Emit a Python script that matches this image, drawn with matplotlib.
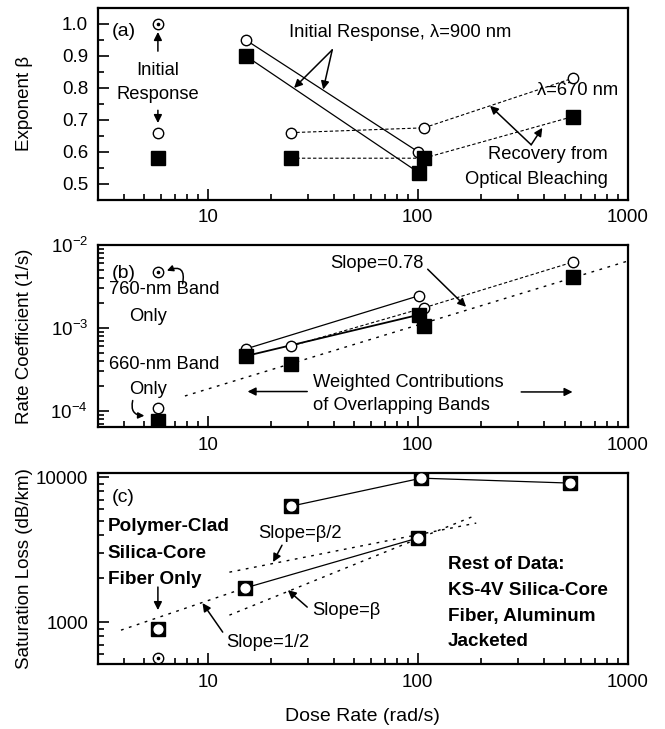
import matplotlib
matplotlib.use("Agg")
import matplotlib.pyplot as plt
from matplotlib.ticker import FixedLocator, LogLocator, NullFormatter, MultipleLocator

plt.rcParams['font.family'] = ['Liberation Sans', 'DejaVu Sans']
plt.rcParams['font.size'] = 13
plt.rcParams['mathtext.fontset'] = 'custom'
plt.rcParams['mathtext.rm'] = 'Liberation Sans'
plt.rcParams['mathtext.it'] = 'Liberation Sans:italic'

# ---- (a) exponent beta vs dose rate ----
a_init_dose = [5.8]
a_init_beta = [1.0]
a_single_circ_dose = [5.8]
a_single_circ_beta = [0.66]
a_single_sq_dose = [5.8]
a_single_sq_beta = [0.58]
a_circ_900_dose = [15.2, 100.5]
a_circ_900_beta = [0.95, 0.60]
a_sq_900_dose = [15.2, 101]
a_sq_900_beta = [0.90, 0.535]
a_circ_670_dose = [24.9, 107, 546]
a_circ_670_beta = [0.66, 0.675, 0.83]
a_sq_670_dose = [24.9, 107, 546]
a_sq_670_beta = [0.58, 0.58, 0.71]

# ---- (b) rate coefficient vs dose rate ----
b_760_dose = [5.8]
b_760_k = [4.7e-3]
b_660_circ_dose = [5.8]
b_660_circ_k = [1.09e-4]
b_660_sq_dose = [5.8]
b_660_sq_k = [7.6e-5]
b_circ_solid_dose = [15.2, 101]
b_circ_solid_k = [5.6e-4, 2.44e-3]
b_sq_solid_dose = [15.2, 101]
b_sq_solid_k = [4.6e-4, 1.44e-3]
b_circ_dash_dose = [24.9, 107, 546]
b_circ_dash_k = [6.05e-4, 1.75e-3, 6.2e-3]
b_sq_dose = [24.9, 107, 546]
b_sq_k = [3.66e-4, 1.06e-3, 4.1e-3]
b_fit_dose = [7.8, 1000]
b_fit_k = [1.52e-4, 6.4e-3]

# ---- (c) saturation loss vs dose rate ----
c_polymer_dose = [5.8]
c_polymer_loss = [900]
c_polymer_dot_dose = [5.8]
c_polymer_dot_loss = [565]
c_ks4v_hi_dose = [24.9, 104, 530]
c_ks4v_hi_loss = [6300, 9840, 9100]
c_ks4v_lo_dose = [15.0, 100]
c_ks4v_lo_loss = [1715, 3800]
c_half_dose = [3.87, 15.0]
c_half_loss = [880, 1715]
c_beta2_dose = [12.7, 190]
c_beta2_loss = [2210, 4820]
c_beta_dose = [12.7, 190]
c_beta_loss = [1117, 5470]

x_ticks = [10, 100, 1000]
x_tick_labels = ['10', '100', '1000']

NOTE = 13.2
BOLD = 13.6
OPEN = dict(marker='o', ms=7.5, mfc='white', mec='black', mew=1.0, ls='none', zorder=4)
SQUARE = dict(marker='s', ms=9.5, mfc='black', mec='black', ls='none', zorder=5)
ARROW = dict(arrowstyle='-|>', color='black', lw=1.1, mutation_scale=12, shrinkA=0, shrinkB=0)


def circled_dot(ax, x, y):
    ax.plot(x, y, **OPEN)
    ax.plot(x, y, marker='o', ms=1.6, color='black', ls='none', zorder=5)


def arrow(ax, tail, head, **kw):
    props = dict(ARROW)
    props.update(kw)
    ax.annotate('', xy=head, xytext=tail, arrowprops=props)


def style_axis(ax):
    ax.set_xscale('log')
    ax.set_xlim(3, 1000)
    ax.xaxis.set_major_locator(FixedLocator(x_ticks))
    ax.set_xticklabels(x_tick_labels)
    ax.xaxis.set_minor_locator(LogLocator(base=10, subs=range(2, 10)))
    ax.xaxis.set_minor_formatter(NullFormatter())
    ax.tick_params(which='both', direction='in', width=1.2, labelsize=13.5, pad=7)
    ax.tick_params(which='major', length=8)
    ax.tick_params(which='minor', length=4.5)
    for s in ax.spines.values():
        s.set_linewidth(1.6)


fig = plt.figure(figsize=(6.65, 7.29), dpi=100)
ax_a = fig.add_axes([0.147, 0.726, 0.797, 0.263])
ax_b = fig.add_axes([0.147, 0.414, 0.797, 0.250])
ax_c = fig.add_axes([0.147, 0.089, 0.797, 0.262])

# panel (a)
ax = ax_a
style_axis(ax)
ax.set_ylim(0.45, 1.05)
ax.yaxis.set_minor_locator(MultipleLocator(0.05))
ax.set_yticks([0.5, 0.6, 0.7, 0.8, 0.9, 1.0])
ax.set_yticklabels(['0.5', '0.6', '0.7', '0.8', '0.9', '1.0'])
ax.plot(a_circ_900_dose, a_circ_900_beta, color='black', lw=0.9)
ax.plot(a_sq_900_dose, a_sq_900_beta, color='black', lw=0.9)
ax.plot(a_circ_670_dose, a_circ_670_beta, color='black', lw=0.8, ls=(0, (3, 2)))
ax.plot(a_sq_670_dose, a_sq_670_beta, color='black', lw=0.8, ls=(0, (3, 2)))
ax.plot(a_circ_900_dose, a_circ_900_beta, **OPEN)
ax.plot(a_circ_670_dose, a_circ_670_beta, **OPEN)
ax.plot(a_single_circ_dose, a_single_circ_beta, **OPEN)
ax.plot(a_sq_900_dose, a_sq_900_beta, **SQUARE)
ax.plot(a_sq_670_dose, a_sq_670_beta, **SQUARE)
ax.plot(a_single_sq_dose, a_single_sq_beta, **SQUARE)
circled_dot(ax, a_init_dose, a_init_beta)
ax.set_ylabel('Exponent β', fontsize=13.5)
ax.yaxis.set_label_coords(-0.122, 0.5)
ax.text(0.026, 0.875, '(a)', transform=ax.transAxes, fontsize=14, va='center')
ax.text(5.8, 0.817, 'Initial\nResponse', ha='center', va='center', linespacing=1.6, fontsize=NOTE)
arrow(ax, (5.8, 0.915), (5.8, 0.975))
arrow(ax, (5.8, 0.73), (5.8, 0.69))
ax.text(24.4, 0.972, 'Initial Response, λ=900 nm', ha='left', va='center', fontsize=NOTE)
arrow(ax, (39.2, 0.919), (25.8, 0.80))
arrow(ax, (39.2, 0.919), (35.5, 0.795))
ax.text(371, 0.792, 'λ=670 nm', ha='left', va='center', fontsize=NOTE)
ax.text(803, 0.552, 'Recovery from\nOptical Bleaching', ha='right', va='center',
        multialignment='right', linespacing=1.6, fontsize=NOTE)
arrow(ax, (347, 0.622), (221, 0.744))
arrow(ax, (347, 0.622), (392, 0.675))

# panel (b)
ax = ax_b
style_axis(ax)
ax.set_yscale('log')
ax.set_ylim(6.4e-5, 1e-2)
ax.yaxis.set_major_locator(FixedLocator([1e-4, 1e-3, 1e-2]))
ax.set_yticklabels([r'$\mathregular{10^{-4}}$', r'$\mathregular{10^{-3}}$', r'$\mathregular{10^{-2}}$'])
ax.yaxis.set_minor_locator(LogLocator(base=10, subs=range(2, 10)))
ax.yaxis.set_minor_formatter(NullFormatter())
ax.plot(b_fit_dose, b_fit_k, color='black', lw=1.0, ls=(0, (2, 4)))
ax.plot(b_circ_solid_dose, b_circ_solid_k, color='black', lw=0.9)
ax.plot(b_sq_solid_dose, b_sq_solid_k, color='black', lw=1.3)
ax.plot(b_circ_dash_dose, b_circ_dash_k, color='black', lw=0.8, ls=(0, (3, 2)))
ax.plot(b_circ_solid_dose, b_circ_solid_k, **OPEN)
ax.plot(b_circ_dash_dose, b_circ_dash_k, **OPEN)
ax.plot(b_660_circ_dose, b_660_circ_k, **OPEN)
ax.plot(b_sq_solid_dose, b_sq_solid_k, **SQUARE)
ax.plot(b_sq_dose, b_sq_k, **SQUARE)
ax.plot(b_660_sq_dose, b_660_sq_k, **SQUARE)
circled_dot(ax, b_760_dose, b_760_k)
ax.set_ylabel('Rate Coefficient (1/s)', fontsize=13.5)
ax.yaxis.set_label_coords(-0.122, 0.5)
ax.text(0.026, 0.846, '(b)', transform=ax.transAxes, fontsize=14, va='center')
ax.text(3.4, 2.9e-3, '760-nm Band', ha='left', va='center', fontsize=NOTE)
ax.text(4.24, 1.37e-3, 'Only', ha='left', va='center', fontsize=NOTE)
ax.text(3.4, 3.6e-4, '660-nm Band', ha='left', va='center', fontsize=NOTE)
ax.text(4.24, 1.8e-4, 'Only', ha='left', va='center', fontsize=NOTE)
arrow(ax, (7.6, 3.4e-3), (6.4, 4.9e-3), connectionstyle='arc3,rad=0.9', mutation_scale=9)
arrow(ax, (4.4, 1.34e-4), (5.0, 8.8e-5), connectionstyle='arc3,rad=0.6', mutation_scale=9)
ax.text(38.3, 5.9e-3, 'Slope=0.78', ha='left', va='center', fontsize=NOTE)
arrow(ax, (111.6, 5.1e-3), (170, 1.8e-3))
ax.text(31.8, 1.6e-4, 'Weighted Contributions\nof Overlapping Bands', ha='left', va='center',
        linespacing=1.5, fontsize=NOTE)
arrow(ax, (29.8, 1.72e-4), (15.5, 1.72e-4))
arrow(ax, (311, 1.7e-4), (546, 1.7e-4))

# panel (c)
ax = ax_c
style_axis(ax)
ax.set_yscale('log')
ax.set_ylim(513, 10660)
ax.yaxis.set_major_locator(FixedLocator([1000, 10000]))
ax.set_yticklabels(['1000', '10000'])
ax.yaxis.set_minor_locator(LogLocator(base=10, subs=range(2, 10)))
ax.yaxis.set_minor_formatter(NullFormatter())
ax.plot(c_half_dose, c_half_loss, color='black', lw=1.0, ls=(0, (2, 4)))
ax.plot(c_beta2_dose, c_beta2_loss, color='black', lw=1.0, ls=(0, (2, 4)))
ax.plot(c_beta_dose, c_beta_loss, color='black', lw=1.0, ls=(0, (2, 4)))
ax.plot(c_ks4v_hi_dose, c_ks4v_hi_loss, color='black', lw=0.9)
ax.plot(c_ks4v_lo_dose, c_ks4v_lo_loss, color='black', lw=0.9)
for xs, ys in [(c_polymer_dose, c_polymer_loss), (c_ks4v_hi_dose, c_ks4v_hi_loss),
               (c_ks4v_lo_dose, c_ks4v_lo_loss)]:
    ax.plot(xs, ys, marker='s', ms=10, mfc='black', mec='black', ls='none', zorder=5)
    ax.plot(xs, ys, marker='o', ms=6.3, mfc='white', mec='white', ls='none', zorder=6)
circled_dot(ax, c_polymer_dot_dose, c_polymer_dot_loss)
ax.set_ylabel('Saturation Loss (dB/km)', fontsize=13.5)
ax.yaxis.set_label_coords(-0.122, 0.5)
ax.set_xlabel('Dose Rate (rad/s)', fontsize=14, labelpad=12)
ax.text(0.026, 0.874, '(c)', transform=ax.transAxes, fontsize=14, va='center')
ax.text(3.35, 2995, 'Polymer-Clad\nSilica-Core\nFiber Only', ha='left', va='center',
        fontweight='bold', linespacing=1.7, fontsize=BOLD)
arrow(ax, (5.8, 1745), (5.8, 1210))
ax.text(17.4, 4110, 'Slope=β/2', ha='left', va='center', fontsize=NOTE)
arrow(ax, (22.6, 3390), (20.5, 2595))
ax.text(31.5, 1210, 'Slope=β', ha='left', va='center', fontsize=NOTE)
arrow(ax, (29.8, 1269), (24.1, 1662))
ax.text(12.3, 728, 'Slope=1/2', ha='left', va='center', fontsize=NOTE)
arrow(ax, (11.8, 853), (9.46, 1352))
ax.text(139, 1352, 'Rest of Data:\nKS-4V Silica-Core\nFiber, Aluminum\nJacketed', ha='left', va='center',
        fontweight='bold', linespacing=1.68, fontsize=BOLD)

fig.savefig('out.png', dpi=100)
